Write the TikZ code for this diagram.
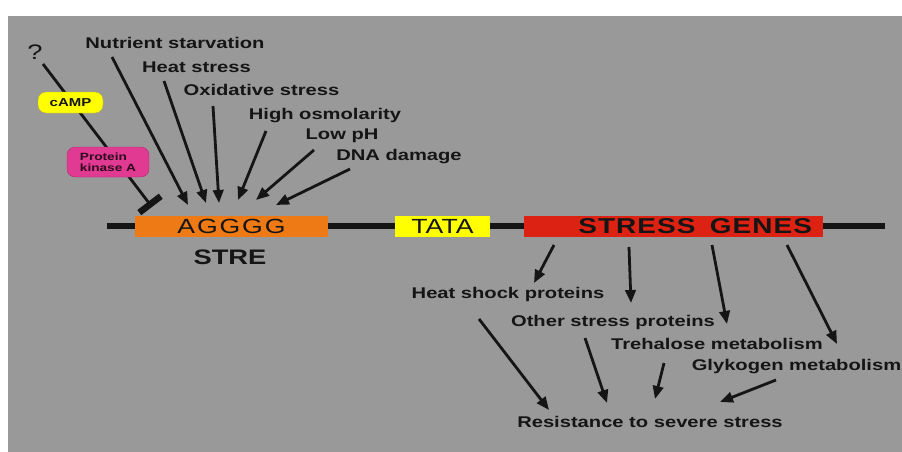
\documentclass[tikz,border=0pt]{standalone}
\usepackage{fontspec}
\setmainfont{Liberation Sans}[FakeStretch=1.3]
\usetikzlibrary{arrows.meta}

\definecolor{bggray}{HTML}{999999}
\definecolor{txt}{HTML}{151515}
\definecolor{streorange}{HTML}{EE7A16}
\definecolor{tatayellow}{HTML}{FFFF00}
\definecolor{genered}{HTML}{DC2212}
\definecolor{pkapink}{HTML}{E03A92}
\definecolor{pkatext}{HTML}{2E0A1C}

\begin{document}
\begin{tikzpicture}[x=1pt, y=-1pt,
        lbl/.style={font=\fontsize{15.5}{18}\selectfont\bfseries, text=txt, inner sep=0pt},
        arr/.style={line width=2.8pt, draw=txt, -{Triangle[length=13pt, width=10.5pt]}},
        box/.style={minimum height=21pt, inner sep=0pt, text=txt}]

        % background
        \useasboundingbox (0,0) rectangle (902,452);
        \fill[white] (0,0) rectangle (902,452);
        \fill[bggray] (8,16) rectangle (902,452);

        % DNA strand
        \coordinate (dnaL) at (107,226);
        \coordinate (dnaR) at (885,226);
        \draw[line width=6.5pt, txt] (dnaL) -- (dnaR);

        % Inhibition path: ? -> cAMP -> PKA -| STRE
        \node[font=\fontsize{21}{24}\selectfont, text=txt, inner sep=0pt] (q) at (35,52) {?};
        \coordinate (qtail) at (43,64);
        \coordinate (qbar) at (152,207);
        \draw[line width=2.8pt, txt, -{Rectangle[length=6.5pt, width=27pt]}] (qtail) -- (qbar);
        \node[fill=tatayellow, draw=yellow!70!black, rounded corners=8pt, minimum width=65pt, minimum height=21pt,
              inner sep=0pt, text=txt, font=\fontsize{11.5}{13}\selectfont\bfseries] (camp) at (70.5,102.5) {cAMP};
        \node[fill=pkapink, draw=pkapink!80!black, rounded corners=8pt, minimum width=82pt, minimum height=30pt,
              inner sep=0pt, text=pkatext, align=left, font=\fontsize{10.5}{11.5}\selectfont\bfseries] (pka) at (108,162) {Protein\\kinase A};

        % Promoter elements and genes
        \node[box, fill=streorange, minimum width=193pt,
              font=\fontsize{20.5}{24}\selectfont\addfontfeatures{LetterSpace=9}] (stre) at (231.5,226.5) {AGGGG};
        \node[lbl, font=\fontsize{21}{24}\selectfont\bfseries] (strelbl) at (230,257) {STRE};
        \node[box, fill=tatayellow, minimum width=95pt, font=\fontsize{20.5}{24}\selectfont] (tata) at (442.5,226.5) {TATA};
        \node[box, fill=genered, text width=277pt, inner xsep=11pt, align=right,
              font=\fontsize{21.5}{24}\selectfont\bfseries\addfontfeatures{LetterSpace=5}] (genes) at (673.5,226.5) {STRESS\ \ GENES};

        % Stress signals
        \node[lbl] (nutr) at (175,43) {Nutrient starvation};
        \node[lbl] (heat) at (196.5,67) {Heat stress};
        \node[lbl] (oxid) at (261.5,90) {Oxidative stress};
        \node[lbl] (osmo) at (325,116) {High osmolarity};
        \node[lbl] (lowph) at (342,136) {Low pH};
        \node[lbl] (dna) at (399,157) {DNA damage};

        \coordinate (nutrT) at (112,57);   \coordinate (nutrH) at (188,205);
        \coordinate (heatT) at (164,81);   \coordinate (heatH) at (206,203);
        \coordinate (oxidT) at (213,106);  \coordinate (oxidH) at (219,203);
        \coordinate (osmoT) at (266,131);  \coordinate (osmoH) at (238,200);
        \coordinate (lowphT) at (314,150); \coordinate (lowphH) at (256,200);
        \coordinate (dnaT) at (350,169);   \coordinate (dnaH) at (276,205);
        \draw[arr] (nutrT) -- (nutrH);
        \draw[arr] (heatT) -- (heatH);
        \draw[arr] (oxidT) -- (oxidH);
        \draw[arr] (osmoT) -- (osmoH);
        \draw[arr] (lowphT) -- (lowphH);
        \draw[arr] (dnaT) -- (dnaH);

        % Products of the stress genes
        \node[lbl] (hsp) at (508,294) {Heat shock proteins};
        \node[lbl] (osp) at (613,322) {Other stress proteins};
        \node[lbl] (treh) at (717,344) {Trehalose metabolism};
        \node[lbl] (glyk) at (796.5,367) {Glykogen metabolism};
        \node[lbl] (resist) at (650,422) {Resistance to severe stress};

        \coordinate (g1) at (554,245); \coordinate (hspH) at (534,283);
        \coordinate (g2) at (629,247); \coordinate (ospH) at (631,303);
        \coordinate (g3) at (712,245); \coordinate (trehH) at (727,324);
        \coordinate (g4) at (787,245); \coordinate (glykH) at (837,344);
        \draw[arr] (g1) -- (hspH);
        \draw[arr] (g2) -- (ospH);
        \draw[arr] (g3) -- (trehH);
        \draw[arr] (g4) -- (glykH);

        \coordinate (hspT) at (479,319);  \coordinate (r1) at (549,410);
        \coordinate (ospT) at (585,338);  \coordinate (r2) at (607,403);
        \coordinate (trehT) at (664,363); \coordinate (r3) at (655,399);
        \coordinate (glykT) at (776,380); \coordinate (r4) at (720,402);
        \draw[arr] (hspT) -- (r1);
        \draw[arr] (ospT) -- (r2);
        \draw[arr] (trehT) -- (r3);
        \draw[arr] (glykT) -- (r4);
\end{tikzpicture}
\end{document}
